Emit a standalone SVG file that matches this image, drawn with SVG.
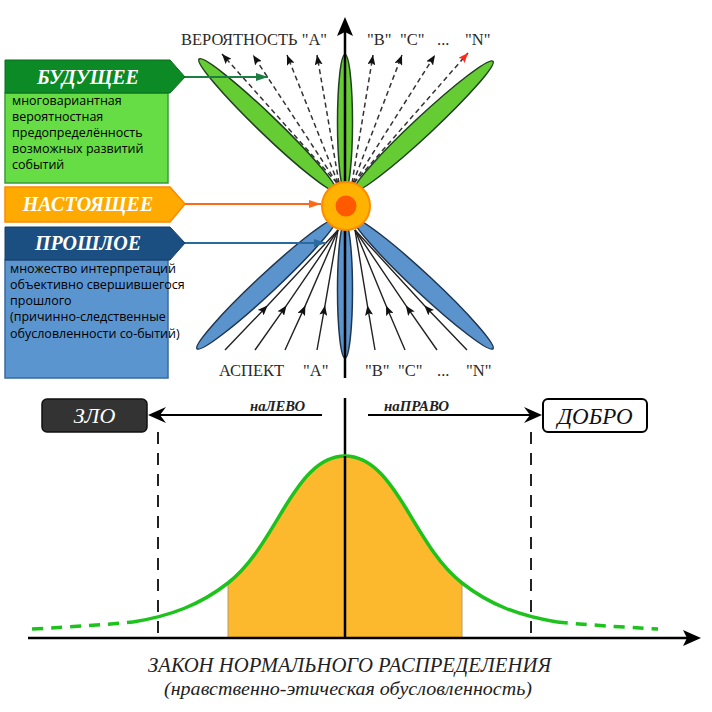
<svg xmlns="http://www.w3.org/2000/svg" width="712" height="712" viewBox="0 0 712 712">
<defs>
<style>
.serif{font-family:"Liberation Serif","Times New Roman",serif;}
.lbl{font-family:"Liberation Serif",serif;font-size:16.5px;fill:#2a2a2a;}
.hdr{font-family:"Liberation Serif",serif;font-size:20px;font-weight:bold;font-style:italic;fill:#fff;text-anchor:middle;}
.body{font-family:"Open Sans","Noto Sans",sans-serif;font-size:12.5px;fill:#000;}
.gpet{fill:#66CC33;stroke:#1F3F1F;stroke-width:1.5;}
.bpet{fill:#5B93CC;stroke:#1E3550;stroke-width:1.5;}
.dash{fill:none;stroke:#333;stroke-width:1.5;stroke-dasharray:5 3.5;}
.solid{fill:none;stroke:#222;stroke-width:1.4;}
.vdash{fill:none;stroke:#222;stroke-width:2;stroke-dasharray:12 9;}
</style>
<marker id="ah" viewBox="0 0 10 8" refX="10" refY="4" markerWidth="10" markerHeight="8" markerUnits="userSpaceOnUse" orient="auto">
<path d="M0,0 L10,4 L0,8 L2,4 Z" fill="#111"/>
</marker>
<marker id="ahr" viewBox="0 0 10 8" refX="10" refY="4" markerWidth="10" markerHeight="8" markerUnits="userSpaceOnUse" orient="auto">
<path d="M0,0 L10,4 L0,8 L2,4 Z" fill="#FF2A1A"/>
</marker>
<marker id="ahg" viewBox="0 0 12 8" refX="12" refY="4" markerWidth="12" markerHeight="8" markerUnits="userSpaceOnUse" orient="auto">
<path d="M0,0 L12,4 L0,8 Z" fill="#1E7E44"/>
</marker>
<marker id="aho" viewBox="0 0 12 8" refX="12" refY="4" markerWidth="12" markerHeight="8" markerUnits="userSpaceOnUse" orient="auto">
<path d="M0,0 L12,4 L0,8 Z" fill="#FF6A1A"/>
</marker>
<marker id="ahb" viewBox="0 0 12 8" refX="12" refY="4" markerWidth="12" markerHeight="8" markerUnits="userSpaceOnUse" orient="auto">
<path d="M0,0 L12,4 L0,8 Z" fill="#2A6A9E"/>
</marker>
</defs>
<rect width="712" height="712" fill="#fff"/>

<!-- petals -->
<g id="future-petals">
<ellipse class="gpet" cx="267.5" cy="125" rx="95" ry="9.5" transform="rotate(43.9 267.5 125)"/>
<ellipse class="gpet" cx="423.5" cy="126" rx="95" ry="9.5" transform="rotate(-43 423.5 126)"/>
<ellipse class="gpet" cx="345" cy="122.5" rx="7.5" ry="68"/>
</g>
<g id="past-petals">
<ellipse class="bpet" cx="266.5" cy="284" rx="95" ry="9.5" transform="rotate(-43 266.5 284)"/>
<ellipse class="bpet" cx="423.5" cy="284" rx="95" ry="9.5" transform="rotate(43 423.5 284)"/>
<ellipse class="bpet" cx="345" cy="290" rx="7.5" ry="68"/>
</g>

<!-- connectors -->
<g id="connectors">
<line x1="345" y1="32" x2="345" y2="378" stroke="#000" stroke-width="2.5"/>
<path d="M345,17 L353,36 L345,32 L337,36 Z" fill="#000"/>
<!-- top dashed probability arrows -->
<line class="dash" x1="337" y1="183" x2="222" y2="54" marker-end="url(#ah)"/>
<line class="dash" x1="337" y1="183" x2="253" y2="55" marker-end="url(#ah)"/>
<line class="dash" x1="338" y1="183" x2="287" y2="55" marker-end="url(#ah)"/>
<line class="dash" x1="339" y1="183" x2="317" y2="55" marker-end="url(#ah)"/>
<line class="dash" x1="352" y1="183" x2="373" y2="55" marker-end="url(#ah)"/>
<line class="dash" x1="353" y1="183" x2="402" y2="55" marker-end="url(#ah)"/>
<line class="dash" x1="354" y1="183" x2="435" y2="55" marker-end="url(#ah)"/>
<line class="dash" x1="354" y1="183" x2="468" y2="53" stroke="#FF3A2A" marker-end="url(#ahr)"/>
<!-- bottom aspect arrows -->
<path class="solid" d="M225,350 L267.6,305.4 L338,230" marker-mid="url(#ah)"/>
<path class="solid" d="M255,350 L286.5,305.4 L338,230" marker-mid="url(#ah)"/>
<path class="solid" d="M285,350 L305.4,305.4 L338,230" marker-mid="url(#ah)"/>
<path class="solid" d="M317,350 L325,305.4 L338,230" marker-mid="url(#ah)"/>
<path class="solid" d="M375,350 L367.4,305.4 L355,230" marker-mid="url(#ah)"/>
<path class="solid" d="M405,350 L386,305.4 L355,230" marker-mid="url(#ah)"/>
<path class="solid" d="M437,350 L405.8,305.4 L355,230" marker-mid="url(#ah)"/>
<path class="solid" d="M467,350 L424.4,305.4 L355,230" marker-mid="url(#ah)"/>
<!-- panel pointers -->
<line x1="184" y1="77" x2="268" y2="77" stroke="#1E7E44" stroke-width="1.8" marker-end="url(#ahg)"/>
<line x1="184" y1="204" x2="321" y2="204" stroke="#FF6A1A" stroke-width="1.8" marker-end="url(#aho)"/>
<line x1="184" y1="243" x2="326" y2="243" stroke="#2A6A9E" stroke-width="1.8" marker-end="url(#ahb)"/>
<!-- lower section -->
<line x1="345" y1="398" x2="345" y2="638" stroke="#000" stroke-width="2.5"/>
<line x1="322" y1="415" x2="156" y2="415" stroke="#000" stroke-width="2"/>
<path d="M148,415 L166,407 L160,415 L166,423 Z" fill="#000"/>
<line x1="368" y1="415" x2="534" y2="415" stroke="#000" stroke-width="2"/>
<path d="M542,415 L524,407 L530,415 L524,423 Z" fill="#000"/>
<line class="vdash" x1="158" y1="432" x2="158" y2="638"/>
<line class="vdash" x1="531" y1="432" x2="531" y2="638"/>
</g>

<!-- center -->
<g id="present-point">
<circle cx="346" cy="206" r="24" fill="#FFB300" stroke="#FF8A00" stroke-width="2"/>
<circle cx="346" cy="206" r="10.5" fill="#FF5A00"/>
</g>

<!-- labels -->
<g id="probability-labels" class="lbl">
<text x="181" y="45" textLength="146" lengthAdjust="spacingAndGlyphs">ВЕРОЯТНОСТЬ "А"</text>
<text x="367" y="45">"В"</text>
<text x="400" y="45">"С"</text>
<text x="437" y="45">...</text>
<text x="465" y="45">"N"</text>
</g>
<g id="aspect-labels" class="lbl">
<text x="219" y="376">АСПЕКТ</text>
<text x="303" y="376">"А"</text>
<text x="365" y="376">"В"</text>
<text x="398" y="376">"С"</text>
<text x="437" y="376">...</text>
<text x="466" y="376">"N"</text>
</g>

<!-- panels -->
<g id="future-panel">
<rect x="5" y="93" width="163" height="90" fill="#66DD44" stroke="#3A9A3A" stroke-width="1.5"/>
<path d="M5,60 L170,60 L185,77 L170,93 L5,93 Z" fill="#0B8A25" stroke="#0A6A1C" stroke-width="1"/>
<text class="hdr" x="88" y="84">БУДУЩЕЕ</text>
<text class="body" x="12" y="105">многовариантная</text>
<text class="body" x="12" y="121">вероятностная</text>
<text class="body" x="12" y="137">предопределённость</text>
<text class="body" x="12" y="153">возможных развитий</text>
<text class="body" x="12" y="169">событий</text>
</g>
<g id="present-panel">
<path d="M5,187 L170,187 L185,204 L170,222 L5,222 Z" fill="#FFAA00" stroke="#FF8800" stroke-width="1.5"/>
<text class="hdr" x="88" y="211">НАСТОЯЩЕЕ</text>
</g>
<g id="past-panel">
<rect x="5" y="260" width="163" height="118" fill="#5B95D0" stroke="#3A6A9A" stroke-width="1.5"/>
<path d="M5,227 L170,227 L185,243 L170,260 L5,260 Z" fill="#1B4F82" stroke="#143E66" stroke-width="1"/>
<text class="hdr" x="88" y="250">ПРОШЛОЕ</text>
<text class="body" x="10" y="273">множество интерпретаций</text>
<text class="body" x="10" y="289">объективно свершившегося</text>
<text class="body" x="10" y="305">прошлого</text>
<text class="body" x="10" y="321">(причинно-следственные</text>
<text class="body" x="10" y="338">обусловленности со-бытий)</text>
</g>

<!-- evil / good -->
<g id="evil">
<rect x="42" y="399" width="105" height="33" rx="5" fill="#333" stroke="#111" stroke-width="1.5"/>
<text class="serif" x="94.5" y="423" font-size="22" font-style="italic" fill="#fff" text-anchor="middle">ЗЛО</text>
</g>
<g id="good">
<rect x="543" y="399" width="104" height="33" rx="5" fill="#fff" stroke="#000" stroke-width="2"/>
<text class="serif" x="595" y="424" font-size="23" font-style="italic" fill="#111" text-anchor="middle">ДОБРО</text>
</g>
<g id="direction-labels" class="serif" font-size="14" font-style="italic" font-weight="bold" fill="#222">
<text x="250" y="411" textLength="55" lengthAdjust="spacingAndGlyphs">наЛЕВО</text>
<text x="384" y="411" textLength="65" lengthAdjust="spacingAndGlyphs">наПРАВО</text>
</g>

<!-- normal distribution -->
<g id="distribution">
<path d="M228,638 L228,583 C250,566 265,540 283,510 C300,482 318,456 345,456 C372,456 390,482 407,510 C425,540 440,566 462,583 L462,638 Z" fill="#FDB92D" stroke="#B89A70" stroke-width="1"/>
<path d="M133,622 C170,616 200,605 228,583 C250,566 265,540 283,510 C300,482 318,456 345,456 C372,456 390,482 407,510 C425,540 440,566 462,583 C490,605 520,616 557,622" fill="none" stroke="#1DC21D" stroke-width="3.5"/>
<path d="M32,629 Q90,626 133,622" fill="none" stroke="#1DC21D" stroke-width="3.5" stroke-dasharray="11 8"/>
<path d="M557,622 Q600,626 658,629" fill="none" stroke="#1DC21D" stroke-width="3.5" stroke-dasharray="11 8"/>
<line x1="345" y1="456" x2="345" y2="638" stroke="#000" stroke-width="2.5"/>
<line x1="28" y1="638" x2="688" y2="638" stroke="#000" stroke-width="2.5"/>
<path d="M701,638 L683,630 L687,638 L683,646 Z" fill="#000"/>
</g>
<g id="caption" class="serif" font-style="italic" fill="#222">
<text x="148" y="672" font-size="21" textLength="403" lengthAdjust="spacingAndGlyphs">ЗАКОН НОРМАЛЬНОГО РАСПРЕДЕЛЕНИЯ</text>
<text x="164" y="695" font-size="19" textLength="368" lengthAdjust="spacingAndGlyphs">(нравственно-этическая обусловленность)</text>
</g>
</svg>
